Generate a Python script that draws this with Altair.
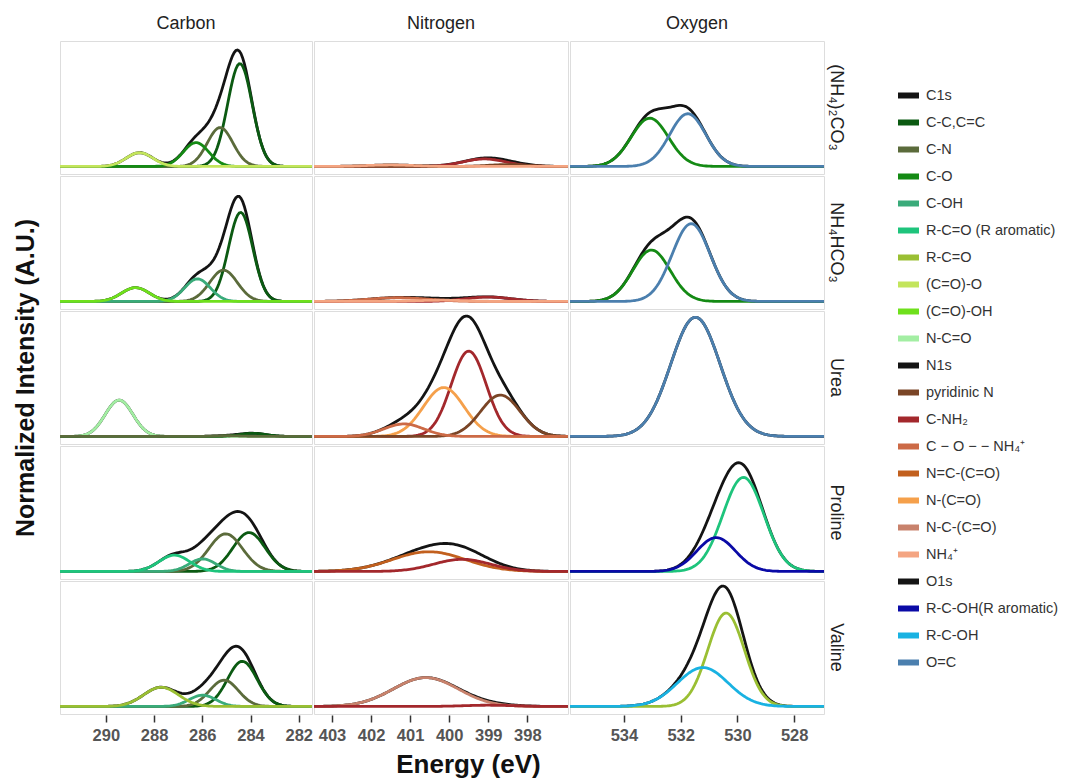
import altair as alt
import numpy as np
import pandas as pd

samples = ["(NH₄)₂CO₃", "NH₄HCO₃", "Urea", "Proline", "Valine"]
elements = ["Carbon", "Nitrogen", "Oxygen"]
envelope_names = {"Carbon": "C1s", "Nitrogen": "N1s", "Oxygen": "O1s"}
x_domains = {"Carbon": [291.9, 281.45], "Nitrogen": [403.46, 396.96], "Oxygen": [535.9, 526.95]}
x_ticks = {"Carbon": [290, 288, 286, 284, 282],
           "Nitrogen": [403, 402, 401, 400, 399, 398],
           "Oxygen": [534, 532, 530, 528]}
panel_widths = {"Carbon": 252, "Nitrogen": 254, "Oxygen": 254}

legend_labels = ["C1s", "C-C,C=C", "C-N", "C-O", "C-OH", "R-C=O (R aromatic)", "R-C=O",
                 "(C=O)-O", "(C=O)-OH", "N-C=O",
                 "N1s", "pyridinic N", "C-NH₂", "C − O − − NH₄⁺", "N=C-(C=O)", "N-(C=O)",
                 "N-C-(C=O)", "NH₄⁺",
                 "O1s", "R-C-OH(R aromatic)", "R-C-OH", "O=C"]
legend_colors = ["#141414", "#0b5a12", "#5b6b3b", "#148a14", "#3aab7a", "#1ec47c", "#9abf33",
                 "#c3e55c", "#6fe01c", "#a3eea3",
                 "#141414", "#7a4526", "#a3282c", "#cc6a46", "#c2601e", "#f5a04b",
                 "#c8826c", "#f4a582",
                 "#141414", "#0a0aa6", "#19b2e2", "#4b7fae"]

# Fitted peak components: sample, component, centre (eV), height, FWHM (eV)
c_sample = ["(NH₄)₂CO₃"] * 4 + ["NH₄HCO₃"] * 4 + ["Urea"] * 3 + ["Proline"] * 4 + ["Valine"] * 4
c_comp = ["C-C,C=C", "C-N", "C-O", "(C=O)-O",
          "C-C,C=C", "C-N", "C-OH", "(C=O)-OH",
          "N-C=O", "C-C,C=C", "C-N",
          "C-C,C=C", "C-N", "C-OH", "R-C=O (R aromatic)",
          "C-C,C=C", "C-N", "C-OH", "R-C=O"]
c_center = [284.44, 285.26, 286.26, 288.6,
            284.41, 285.12, 286.2, 288.77,
            289.45, 283.9, 285.0,
            284.06, 285.03, 285.99, 287.16,
            284.34, 285.1, 285.99, 287.71]
c_height = [0.82, 0.31, 0.19, 0.11,
            0.71, 0.25, 0.18, 0.11,
            0.29, 0.025, 0.006,
            0.31, 0.30, 0.10, 0.13,
            0.36, 0.21, 0.09, 0.153]
c_fwhm = [1.2, 1.25, 1.25, 1.3,
          1.18, 1.35, 1.25, 1.35,
          1.35, 1.3, 1.3,
          1.58, 1.65, 1.3, 1.5,
          1.44, 1.4, 1.3, 1.7]

n_sample = ["(NH₄)₂CO₃"] * 3 + ["NH₄HCO₃"] * 3 + ["Urea"] * 4 + ["Proline"] * 2 + ["Valine"] * 2
n_comp = ["C-NH₂", "pyridinic N", "NH₄⁺",
          "C − O − − NH₄⁺", "C-NH₂", "NH₄⁺",
          "C-NH₂", "N-(C=O)", "pyridinic N", "C − O − − NH₄⁺",
          "N=C-(C=O)", "C-NH₂",
          "N-C-(C=O)", "C-NH₂"]
n_center = [399.1, 398.5, 401.5,
            401.3, 399.0, 400.2,
            399.5, 400.14, 398.69, 401.16,
            400.52, 399.67,
            400.6, 399.0]
n_height = [0.06, 0.015, 0.012,
            0.03, 0.035, 0.01,
            0.68, 0.39, 0.33, 0.10,
            0.157, 0.097,
            0.23, 0.01]
n_fwhm = [1.3, 1.2, 1.5,
          1.8, 1.4, 1.5,
          1.06, 1.23, 1.19, 1.2,
          2.2, 1.7,
          1.96, 1.5]

o_sample = ["(NH₄)₂CO₃"] * 2 + ["NH₄HCO₃"] * 2 + ["Urea"] + ["Proline"] * 2 + ["Valine"] * 2
o_comp = ["C-O", "O=C",
          "C-O", "O=C",
          "O=C",
          "R-C=O (R aromatic)", "R-C-OH(R aromatic)",
          "R-C=O", "R-C-OH"]
o_center = [533.09, 531.75, 533.03, 531.63, 531.48, 529.79, 530.75, 530.40, 531.22]
o_height = [0.385, 0.42, 0.41, 0.62, 0.95, 0.75, 0.27, 0.745, 0.31]
o_fwhm = [1.55, 1.5, 1.55, 1.58, 2.05, 1.7, 1.6, 1.52, 2.1]

peaks = {
    "Carbon": (c_sample, c_comp, c_center, c_height, c_fwhm),
    "Nitrogen": (n_sample, n_comp, n_center, n_height, n_fwhm),
    "Oxygen": (o_sample, o_comp, o_center, o_height, o_fwhm),
}

rows = []
for elem in elements:
    lo, hi = sorted(x_domains[elem])
    grid = np.linspace(lo, hi, 150)
    smp, comp, cen, hgt, fw = peaks[elem]
    for s in samples:
        total = np.zeros_like(grid)
        curves = []
        for k in range(len(smp)):
            if smp[k] != s:
                continue
            sig = fw[k] / 2.3548
            y = hgt[k] * np.exp(-((grid - cen[k]) ** 2) / (2 * sig ** 2))
            total += y
            curves.append((comp[k], y))
        for e, v in zip(grid, total):
            rows.append({"element": elem, "sample": s, "component": envelope_names[elem],
                         "kind": "env", "energy": e, "intensity": v})
        for name, y in curves:
            for e, v in zip(grid, y):
                rows.append({"element": elem, "sample": s, "component": name,
                             "kind": "comp", "energy": e, "intensity": v})
df = pd.DataFrame(rows)

FONT = "Liberation Sans"

color = alt.Color("component:N",
                  scale=alt.Scale(domain=legend_labels, range=legend_colors),
                  legend=alt.Legend(title=None, orient="none", legendX=835, legendY=41,
                                    symbolType="stroke", symbolStrokeWidth=6, symbolSize=440,
                                    labelFontSize=14.5, labelColor="#333333", labelFont=FONT,
                                    rowPadding=1.0, labelLimit=300))


def column_chart(i, elem):
    d = df[df.element == elem]
    axis_kw = dict(values=x_ticks[elem], labelFontSize=16.5, labelFontWeight="bold",
                   labelColor="#555555", labelFont=FONT, labelFlush=False, domain=False,
                   tickColor="#333333", tickSize=7, tickWidth=1.5, grid=False, labelPadding=5)
    if i == 1:
        xaxis = alt.Axis(title="Energy (eV)", titleFontSize=26, titleFontWeight="bold",
                         titleColor="#111111", titleFont=FONT, titlePadding=8, titleX=154,
                         **axis_kw)
    else:
        xaxis = alt.Axis(title=None, **axis_kw)
    x = alt.X("energy:Q", scale=alt.Scale(domain=x_domains[elem], nice=False, zero=False),
              axis=xaxis)
    y = alt.Y("intensity:Q", scale=alt.Scale(domain=[-0.06, 1.0], nice=False, zero=False),
              axis=None)
    base = alt.Chart(d)
    env = base.transform_filter(alt.datum.kind == "env").mark_line(
        strokeWidth=2.8, clip=True).encode(x=x, y=y, color=color)
    comp = base.transform_filter(alt.datum.kind == "comp").mark_line(
        strokeWidth=2.8, clip=True).encode(x=x, y=y, color=color)
    layered = alt.layer(env, comp).properties(width=panel_widths[elem], height=133)

    if i == 0:
        row = alt.Row("sample:N", sort=samples, title="Normalized Intensity (A.U.)",
                      header=alt.Header(labels=False, titleFontSize=25, titleFontWeight="bold",
                                        titleColor="#111111", titleFont=FONT, titleOrient="left",
                                        titlePadding=10))
    elif i == 1:
        row = alt.Row("sample:N", sort=samples, title=None, header=alt.Header(labels=False))
    else:
        row = alt.Row("sample:N", sort=samples, title=None,
                      header=alt.Header(labelOrient="right", labelAngle=90, labelFontSize=18,
                                        labelColor="#222222", labelFont=FONT, labelPadding=2,
                                        labelAlign="center", labelBaseline="top"))
    col = alt.Column("element:N", title=None,
                     header=alt.Header(labelFontSize=18, labelColor="#222222", labelFont=FONT,
                                       labelPadding=7))
    return layered.facet(row=row, column=col, spacing=0)


chart = alt.hconcat(*[column_chart(i, e) for i, e in enumerate(elements)], spacing=0)
chart = chart.properties(padding={"left": 5, "top": 7, "right": 5, "bottom": 2})
chart = chart.configure_view(stroke="#3a3a3a", strokeWidth=1.2).configure(font=FONT)

chart.save("out.html", embed_options={"renderer": "svg", "actions": False})
